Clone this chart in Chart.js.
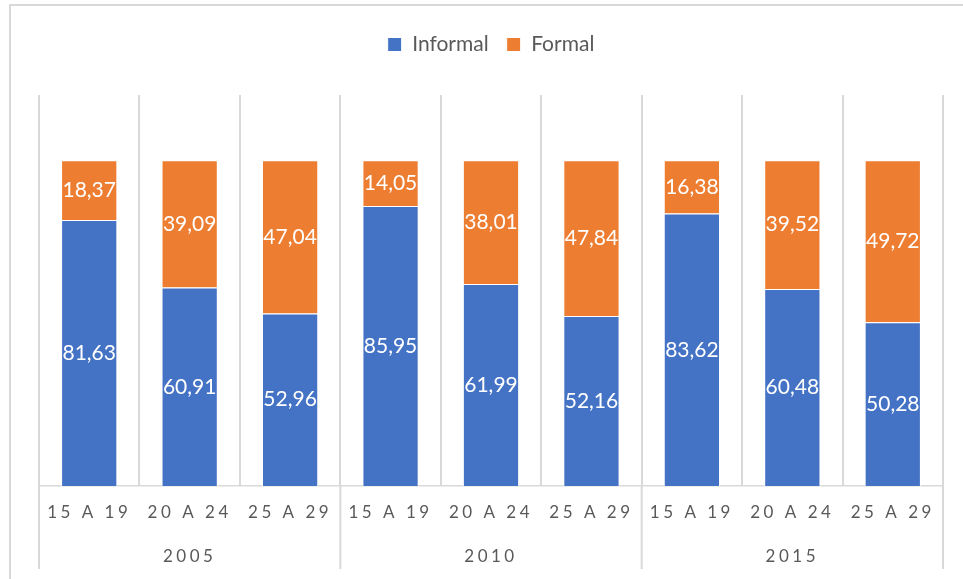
<!DOCTYPE html>
<html>
<head>
<meta charset="utf-8">
<script src="https://cdn.jsdelivr.net/npm/chart.js@4.4.1/dist/chart.umd.min.js"></script>
<style>
    html, body { margin: 0; padding: 0; background: #fff; overflow: hidden; }
    #wrap { position: relative; width: 963px; height: 579px; }
    #frame { position: absolute; left: 9px; top: 4px; width: 1000px; height: 1000px;
             border: 2px solid #d9d9d9; box-sizing: border-box; }
    canvas { position: absolute; left: 0; top: 0; }
</style>
</head>
<body>
<div id="wrap">
    <div id="frame"></div>
    <canvas id="chart" width="963" height="579"></canvas>
</div>
<script>
'use strict';

var years = ['2005', '2010', '2015'];
var ages = ['15 A 19', '20 A 24', '25 A 29'];
var informal = [81.63, 60.91, 52.96, 85.95, 61.99, 52.16, 83.62, 60.48, 50.28];
var formal = [18.37, 39.09, 47.04, 14.05, 38.01, 47.84, 16.38, 39.52, 49.72];

// one age label per bar, year shown under the middle bar of each group
var labels = [];
var yearRow = [];
years.forEach(function (y) {
    ages.forEach(function (a, k) {
        labels.push(a);
        yearRow.push(k === 1 ? y : '');
    });
});

var FONT = 'Lato';
var GRID = '#d9d9d9';

function fmt(v) {
    return v.toFixed(2).replace('.', ',');
}

// category axis whose labels are drawn letter-spaced
class SpacedCategoryScale extends Chart.CategoryScale {
    drawLabels(chartArea) {
        var ctx = this.ctx;
        ctx.save();
        ctx.letterSpacing = '3.5px';
        super.drawLabels(chartArea);
        ctx.restore();
    }
}
SpacedCategoryScale.id = 'spacedCategory';
SpacedCategoryScale.defaults = Chart.CategoryScale.defaults;
Chart.register(SpacedCategoryScale);

// white values in the middle of each segment
var valueLabels = {
    id: 'valueLabels',
    afterDatasetsDraw: function (chart) {
        var ctx = chart.ctx;
        ctx.save();
        ctx.font = '21px ' + FONT;
        ctx.fillStyle = '#ffffff';
        ctx.textAlign = 'center';
        ctx.textBaseline = 'middle';
        chart.data.datasets.forEach(function (ds, i) {
            chart.getDatasetMeta(i).data.forEach(function (bar, j) {
                var p = bar.getCenterPoint();
                ctx.fillText(fmt(ds.data[j]), p.x, p.y);
            });
        });
        ctx.restore();
    }
};

// long separators between the year groups
var groupLines = {
    id: 'groupLines',
    afterDraw: function (chart) {
        var x = chart.scales.x;
        var x2 = chart.scales.x2;
        var ctx = chart.ctx;
        var step = x.getPixelForValue(1) - x.getPixelForValue(0);
        ctx.save();
        ctx.strokeStyle = GRID;
        ctx.lineWidth = 2;
        for (var g = 0; g <= years.length; g++) {
            var px = x.getPixelForValue(g * ages.length) - step / 2;
            ctx.beginPath();
            ctx.moveTo(px, x.top);
            ctx.lineTo(px, x2.bottom - 3);
            ctx.stroke();
        }
        ctx.restore();
    }
};

// extra room under the legend
var legendGap = {
    id: 'legendGap',
    beforeInit: function (chart) {
        var fit = chart.legend.fit;
        chart.legend.fit = function () {
            fit.bind(chart.legend)();
            this.height += 30;
        };
    }
};

var ctx = document.getElementById('chart').getContext('2d');
new Chart(ctx, {
    type: 'bar',
    data: {
        labels: labels,
        datasets: [
            {
                label: 'Informal',
                data: informal,
                backgroundColor: '#4472c4',
                borderColor: '#ffffff',
                borderWidth: 1,
                barPercentage: 0.56,
                categoryPercentage: 1
            },
            {
                label: 'Formal',
                data: formal,
                backgroundColor: '#ed7d31',
                borderColor: '#ffffff',
                borderWidth: 1,
                barPercentage: 0.56,
                categoryPercentage: 1
            }
        ]
    },
    options: {
        responsive: false,
        animation: false,
        layout: { padding: { left: 39, right: 20, top: 16, bottom: 7 } },
        plugins: {
            tooltip: { enabled: false },
            legend: {
                position: 'top',
                labels: {
                    color: '#595959',
                    font: { family: FONT, size: 21 },
                    boxWidth: 14,
                    boxHeight: 14,
                    padding: 18
                }
            }
        },
        scales: {
            x: {
                type: 'spacedCategory',
                stacked: true,
                offset: true,
                weight: 0,
                grid: { offset: true, color: GRID, lineWidth: 2, drawTicks: false },
                border: { color: GRID, width: 1.5 },
                ticks: {
                    color: '#595959',
                    font: { family: FONT, size: 17 },
                    padding: 16,
                    autoSkip: false,
                    maxRotation: 0
                },
                afterFit: function (scale) { scale.height = 46; }
            },
            x2: {
                type: 'spacedCategory',
                position: 'bottom',
                labels: yearRow,
                offset: true,
                weight: 1,
                grid: { display: false },
                border: { display: false },
                ticks: {
                    color: '#595959',
                    font: { family: FONT, size: 17 },
                    padding: 6,
                    autoSkip: false,
                    maxRotation: 0
                },
                afterFit: function (scale) { scale.height = 40; }
            },
            y: {
                display: false,
                stacked: true,
                min: 0,
                max: 120
            }
        }
    },
    plugins: [valueLabels, groupLines, legendGap]
});
</script>
</body>
</html>
